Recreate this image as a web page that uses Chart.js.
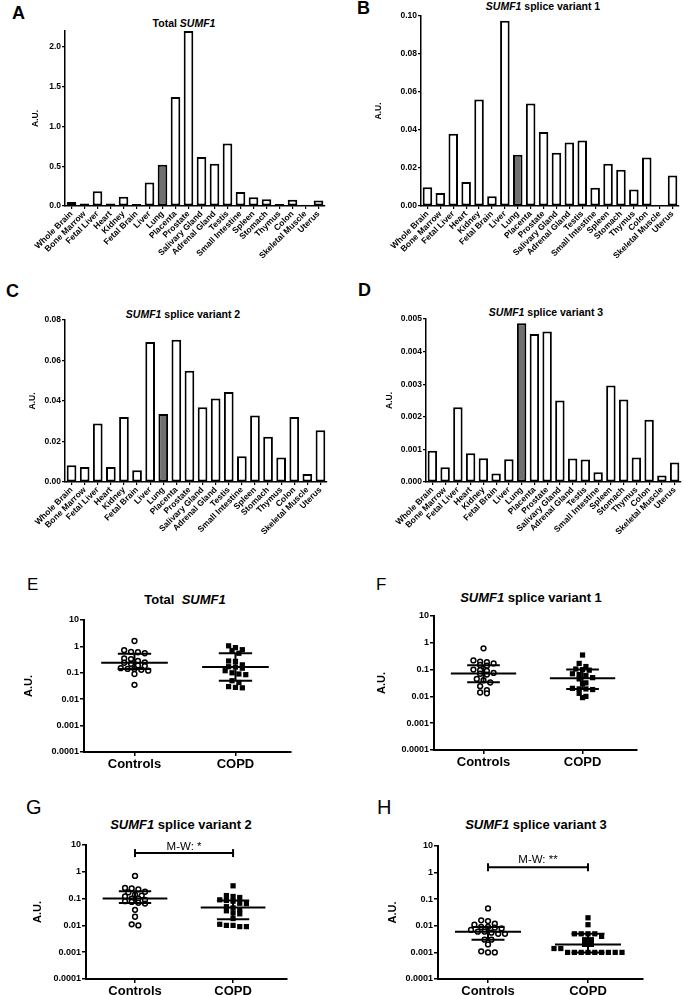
<!DOCTYPE html>
<html>
<head>
<meta charset="utf-8">
<script src="https://cdn.jsdelivr.net/npm/chart.js@4.4.1/dist/chart.umd.min.js"></script>
<style>
  body { margin:0; background:#fff; width:685px; height:995px; position:relative; overflow:hidden; font-family:"Liberation Sans", Arial, sans-serif; color:#000; }
  canvas { position:absolute; }
  .lbl { position:absolute; line-height:1; white-space:nowrap; }
  .letter { font-weight:bold; font-size:18px; }
  .letter2 { font-size:17px; }
  .letter3 { font-size:20px; }
  .t1 { font-weight:bold; font-size:10.5px; transform:translateX(-50%); }
  .t2 { font-weight:bold; font-size:13px; transform:translateX(-50%); }
</style>
</head>
<body>
<!-- panel letters -->
<div class="lbl letter" style="left:12px;top:4px">A</div>
<div class="lbl letter" style="left:357px;top:-1px">B</div>
<div class="lbl letter" style="left:6px;top:282px">C</div>
<div class="lbl letter" style="left:358px;top:281px">D</div>
<div class="lbl letter2" style="left:27px;top:576px">E</div>
<div class="lbl letter2" style="left:376px;top:576px">F</div>
<div class="lbl letter3" style="left:26px;top:797px">G</div>
<div class="lbl letter3" style="left:377px;top:797px">H</div>

<!-- titles -->
<div class="lbl t1" style="left:184px;top:18px">Total <i>SUMF1</i></div>
<div class="lbl t1" style="left:543px;top:1px"><i>SUMF1</i> splice variant 1</div>
<div class="lbl t1" style="left:183px;top:309px"><i>SUMF1</i> splice variant 2</div>
<div class="lbl t1" style="left:546px;top:307px"><i>SUMF1</i> splice variant 3</div>
<div class="lbl t2" style="left:185px;top:593px">Total&nbsp; <i>SUMF1</i></div>
<div class="lbl t2" style="left:531px;top:591px"><i>SUMF1</i> splice variant 1</div>
<div class="lbl t2" style="left:181px;top:818px"><i>SUMF1</i> splice variant 2</div>
<div class="lbl t2" style="left:536px;top:818px"><i>SUMF1</i> splice variant 3</div>

<canvas id="chartA" width="340" height="290" style="left:0;top:0"></canvas>
<canvas id="chartB" width="345" height="290" style="left:340px;top:0"></canvas>
<canvas id="chartC" width="340" height="270" style="left:0;top:290px"></canvas>
<canvas id="chartD" width="345" height="270" style="left:340px;top:290px"></canvas>
<canvas id="chartE" width="340" height="200" style="left:0;top:580px"></canvas>
<canvas id="chartF" width="345" height="200" style="left:340px;top:580px"></canvas>
<canvas id="chartG" width="340" height="215" style="left:0;top:780px"></canvas>
<canvas id="chartH" width="345" height="215" style="left:340px;top:780px"></canvas>

<script>
// tissue panel data (A-D)
const tissues = ["Whole Brain", "Bone Marrow", "Fetal Liver", "Heart", "Kidney", "Fetal Brain", "Liver", "Lung",
  "Placenta", "Prostate", "Salivary Gland", "Adrenal Gland", "Testis", "Small Intestine", "Spleen", "Stomach",
  "Thymus", "Colon", "Skeletal Muscle", "Uterus"];

const totalSumf1 = [0.05, 0.03, 0.185, 0.03, 0.115, 0.025, 0.295, 0.52, 1.37, 2.2, 0.615, 0.53, 0.785, 0.175, 0.11, 0.085, 0.025, 0.08, 0.015, 0.07];
const variant1 = [0.0099, 0.0069, 0.038, 0.0126, 0.056, 0.0051, 0.0975, 0.027, 0.054, 0.039, 0.028, 0.0334, 0.0345, 0.0096, 0.0223, 0.0191, 0.0087, 0.0255, 0.0003, 0.0161];
const variant2 = [0.0083, 0.0074, 0.0289, 0.0074, 0.0321, 0.0058, 0.0691, 0.0336, 0.0702, 0.0549, 0.0369, 0.0412, 0.0445, 0.0127, 0.0329, 0.0223, 0.0121, 0.0321, 0.004, 0.0256];
const variant3 = [0.00096, 0.00045, 0.00229, 0.00088, 0.00073, 0.00026, 0.0007, 0.00487, 0.00454, 0.00462, 0.0025, 0.00072, 0.00069, 0.0003, 0.00296, 0.00253, 0.00075, 0.00191, 0.0002, 0.0006];

const ticksA = [0, 0.5, 1, 1.5, 2];
const tickLabelsA = ["0.0", "0.5", "1.0", "1.5", "2.0"];
const ticksB = [0, 0.02, 0.04, 0.06, 0.08, 0.10];
const tickLabelsB = ["0.00", "0.02", "0.04", "0.06", "0.08", "0.10"];
const ticksC = [0, 0.02, 0.04, 0.06, 0.08];
const tickLabelsC = ["0.00", "0.02", "0.04", "0.06", "0.08"];
const ticksD = [0, 0.001, 0.002, 0.003, 0.004, 0.005];
const tickLabelsD = ["0.000", "0.001", "0.002", "0.003", "0.004", "0.005"];

// patient panel data (E-H)
const groups = ["Controls", "COPD"];
const logTicks = [0.0001, 0.001, 0.01, 0.1, 1, 10];
const logTickLabels = ["0.0001", "0.001", "0.01", "0.1", "1", "10"];

const totalControls = [1.6, 0.72, 0.62, 0.6, 0.55, 0.35, 0.33, 0.28, 0.25, 0.24, 0.22, 0.19, 0.18, 0.15, 0.14, 0.14, 0.13, 0.12, 0.09, 0.035];
const totalCopd = [1.05, 0.9, 0.75, 0.7, 0.55, 0.28, 0.27, 0.2, 0.17, 0.165, 0.15, 0.12, 0.1, 0.09, 0.085, 0.05, 0.043, 0.03, 0.028, 0.027];
const v1Controls = [0.62, 0.22, 0.2, 0.19, 0.17, 0.15, 0.14, 0.1, 0.095, 0.09, 0.075, 0.07, 0.065, 0.045, 0.04, 0.033, 0.024, 0.017, 0.014, 0.013];
const v1Copd = [0.35, 0.17, 0.13, 0.105, 0.1, 0.095, 0.07, 0.065, 0.06, 0.05, 0.045, 0.032, 0.03, 0.02, 0.019, 0.019, 0.018, 0.013, 0.01, 0.009];
const v2Controls = [0.7, 0.25, 0.24, 0.22, 0.18, 0.17, 0.14, 0.13, 0.12, 0.1, 0.1, 0.09, 0.08, 0.075, 0.07, 0.065, 0.038, 0.021, 0.011, 0.01];
const v2Copd = [0.3, 0.13, 0.12, 0.11, 0.09, 0.085, 0.08, 0.067, 0.065, 0.05, 0.045, 0.038, 0.035, 0.029, 0.027, 0.018, 0.011, 0.01, 0.01, 0.009, 0.009];
const v3Controls = [0.045, 0.016, 0.015, 0.012, 0.011, 0.009, 0.009, 0.0085, 0.008, 0.007, 0.006, 0.006, 0.0055, 0.005, 0.005, 0.003, 0.003, 0.002, 0.0011, 0.001, 0.001];
const v3Copd = [0.02, 0.011, 0.005, 0.005, 0.005, 0.005, 0.004, 0.003, 0.003, 0.002, 0.002, 0.0014, 0.0014, 0.001, 0.001, 0.001, 0.001, 0.001, 0.001, 0.001, 0.001, 0.001];

// [q1, median, q3] as drawn
const totalStats = [[0.14, 0.24, 0.53], [0.05, 0.165, 0.55]];
const v1Stats = [[0.034, 0.072, 0.145], [0.019, 0.048, 0.1]];
const v2Stats = [[0.068, 0.1, 0.19], [0.017, 0.047, 0.085]];
const v3Stats = [[0.003, 0.006, 0.009], [0.001, 0.002, 0.005]];

const sigG = {text: "M-W: *", y: 5};
const sigH = {text: "M-W: **", y: 1.6};

Chart.defaults.font.family = '"Liberation Sans", Arial, sans-serif';
Chart.defaults.color = "#000";

const axisGrid = (len, w) => ({display: true, drawOnChartArea: false, drawTicks: true, tickLength: len, color: "#000", lineWidth: w, offset: false});

function barChart(id, values, yMax, ticks, tickLabels, g) {
  new Chart(document.getElementById(id), {
    type: "bar",
    data: {
      labels: tissues,
      datasets: [{
        data: values,
        backgroundColor: tissues.map(t => t === "Lung" ? "#707070" : "#fff"),
        borderColor: "#000",
        borderWidth: 2,
        borderSkipped: false,
        barPercentage: 0.74,
        categoryPercentage: 1
      }]
    },
    options: {
      responsive: false, animation: false, devicePixelRatio: 1,
      layout: {padding: {left: 0, top: g.top, right: g.right, bottom: 0}},
      plugins: {legend: {display: false}, tooltip: {enabled: false}},
      scales: {
        x: {
          grid: axisGrid(3, 1.2),
          border: {display: true, color: "#000", width: 1.5},
          ticks: {autoSkip: false, minRotation: 45, maxRotation: 45, padding: 0, font: {size: 8.5, weight: "bold"}},
          afterFit: s => { s.height = g.xh; }
        },
        y: {
          min: 0, max: yMax,
          grid: axisGrid(3, 1.2),
          border: {display: true, color: "#000", width: 1.5},
          ticks: {padding: 1, font: {size: 8.5, weight: "bold"}, callback: (v, i) => tickLabels[i]},
          afterBuildTicks: s => { s.ticks = ticks.map(v => ({value: v})); },
          afterFit: s => { s.width = g.yw; },
          title: {display: true, text: "A.U.", font: {size: 8.5, weight: "bold"}, padding: {top: g.tp, bottom: 0}}
        }
      }
    }
  });
}

// spread points of one group sideways when they sit at about the same level
function spread(values, center) {
  const sorted = values.map(v => ({v: v, l: Math.log10(v)})).sort((a, b) => b.l - a.l);
  const rows = [];
  sorted.forEach(p => {
    const row = rows[rows.length - 1];
    if (row && row[0].l - p.l < 0.15) row.push(p); else rows.push([p]);
  });
  const pts = [];
  rows.forEach(row => row.forEach((p, i) => pts.push({x: center + (i - (row.length - 1) / 2) * 0.068, y: p.v})));
  return pts;
}

function seg(data, w) {
  return {type: "line", data: data, borderColor: "#000", borderWidth: w, pointRadius: 0, fill: false};
}

const sigLabel = {
  id: "sigLabel",
  afterDatasetsDraw(chart, args, opts) {
    if (!opts.text) return;
    const ctx = chart.ctx;
    ctx.save();
    ctx.font = '11.5px "Liberation Sans", Arial, sans-serif';
    ctx.textAlign = "center";
    ctx.textBaseline = "alphabetic";
    ctx.fillStyle = "#000";
    ctx.fillText(opts.text, chart.scales.x.getPixelForValue(1.5), chart.scales.y.getPixelForValue(opts.y) - opts.gap);
    ctx.restore();
  }
};

function scatterChart(id, ctrl, copd, stats, sig, g) {
  const sets = [];
  stats.forEach((st, k) => {
    const c = k + 1;
    sets.push(seg([{x: c - 0.33, y: st[1]}, {x: c + 0.33, y: st[1]}], 2));
    sets.push(seg([{x: c - 0.165, y: st[0]}, {x: c + 0.165, y: st[0]}], 2));
    sets.push(seg([{x: c - 0.165, y: st[2]}, {x: c + 0.165, y: st[2]}], 2));
    sets.push(seg([{x: c, y: st[0]}, {x: c, y: st[2]}], 2));
  });
  if (sig) {
    sets.push({type: "line", data: [{x: 1, y: sig.y}, {x: 2, y: sig.y}], borderColor: "#000", borderWidth: 2,
      pointStyle: "line", pointRotation: 90, pointRadius: 4, pointBorderWidth: 2, pointBorderColor: "#000", fill: false});
  }
  sets.push({type: "scatter", data: spread(ctrl, 1), pointStyle: "circle", pointRadius: 2.4,
    pointBackgroundColor: "#fff", pointBorderColor: "#000", pointBorderWidth: 1.5});
  sets.push({type: "scatter", data: spread(copd, 2), pointStyle: "rect", pointRadius: 3.7,
    pointBackgroundColor: "#000", pointBorderColor: "#000", pointBorderWidth: 0});

  new Chart(document.getElementById(id), {
    type: "scatter",
    data: {datasets: sets},
    plugins: [sigLabel],
    options: {
      responsive: false, animation: false, devicePixelRatio: 1,
      layout: {padding: {left: 0, top: g.top, right: g.right, bottom: 0}},
      plugins: {legend: {display: false}, tooltip: {enabled: false},
        sigLabel: sig ? {text: sig.text, y: sig.y, gap: g.gap} : {}},
      scales: {
        x: {
          type: "linear", min: 0.5, max: 2.55,
          grid: axisGrid(4, 1.5),
          border: {display: true, color: "#000", width: 2},
          ticks: {padding: 1, font: {size: 13, weight: "bold"}, callback: v => groups[v - 1]},
          afterBuildTicks: s => { s.ticks = [{value: 1}, {value: 2}]; },
          afterFit: s => { s.height = g.xh; }
        },
        y: {
          type: "logarithmic", min: 0.0001, max: 10,
          grid: axisGrid(4, 1.5),
          border: {display: true, color: "#000", width: 2},
          ticks: {padding: 1, font: {size: 9, weight: "bold"}, callback: (v, i) => logTickLabels[i]},
          afterBuildTicks: s => { s.ticks = logTicks.map(v => ({value: v})); },
          afterFit: s => { s.width = g.yw; },
          title: {display: true, text: "A.U.", font: {size: 11, weight: "bold"}, padding: {top: g.tp, bottom: 0}}
        }
      }
    }
  });
}

barChart("chartA", totalSumf1, 2.2, ticksA, tickLabelsA, {top: 31, right: 15, xh: 84, yw: 65, tp: 31});
barChart("chartB", variant1, 0.10, ticksB, tickLabelsB, {top: 16, right: 6, xh: 84, yw: 81, tp: 34});
barChart("chartC", variant2, 0.08, ticksC, tickLabelsC, {top: 30, right: 13, xh: 78, yw: 65, tp: 28});
barChart("chartD", variant3, 0.005, ticksD, tickLabelsD, {top: 29, right: 4, xh: 78, yw: 86, tp: 45});

scatterChart("chartE", totalControls, totalCopd, totalStats, null, {top: 40, right: 49, xh: 28, yw: 84, tp: 22});
scatterChart("chartF", v1Controls, v1Copd, v1Stats, null, {top: 36, right: 48, xh: 30, yw: 94, tp: 35});
scatterChart("chartG", v2Controls, v2Copd, v2Stats, sigG, {top: 65, right: 53, xh: 16, yw: 86, tp: 31, gap: 3});
scatterChart("chartH", v3Controls, v3Copd, v3Stats, sigH, {top: 66, right: 42, xh: 16, yw: 98, tp: 46, gap: 4});
</script>
</body>
</html>
